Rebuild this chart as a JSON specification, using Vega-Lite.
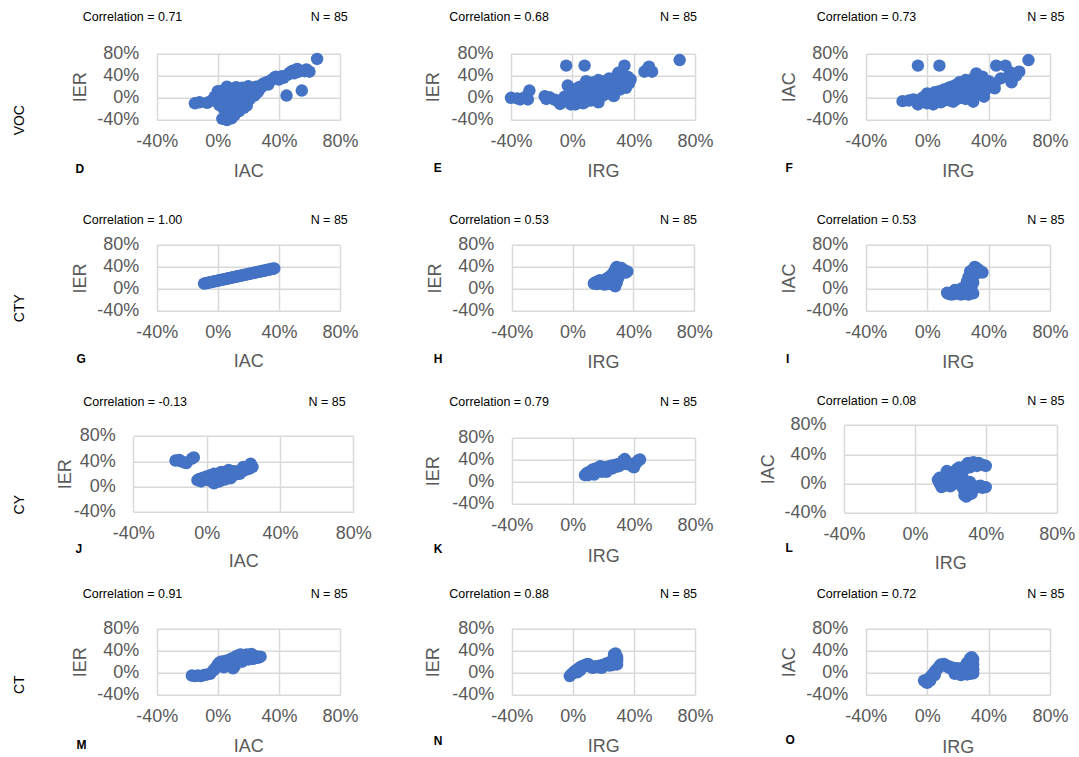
{
"$schema": "https://vega.github.io/schema/vega-lite/v6.json",
"padding": {"left": 12, "top": 10.7, "right": 0, "bottom": 0},
"autosize": {"type": "pad"},
"config": {
 "font": "Liberation Sans",
 "view": {"stroke": null},
 "axis": {"domain": false, "ticks": false, "tickSize": 0, "labelFontSize": 18, "labelColor": "#595959", "labelFlush": false, "labelOverlap": false, "titleFontSize": 18, "titleColor": "#595959", "titleFontWeight": "normal", "titleAlign": "center", "titleBaseline": "alphabetic", "gridColor": "#D9D9D9", "gridWidth": 1.5},
 "axisX": {"labelPadding": 13, "titleAngle": 0},
 "axisY": {"labelPadding": 18, "titleAngle": 270},
 "title": {"fontSize": 12.5, "fontWeight": "normal", "color": "#000000", "anchor": "start", "frame": "group", "baseline": "alphabetic", "limit": 1000},
 "circle": {"color": "#4472C4", "opacity": 1, "size": 155}
},
"datasets": {
 "D": [{"IAC":-0.15,"IER":-0.10},{"IAC":-0.12,"IER":-0.08},{"IAC":-0.07,"IER":-0.09},{"IAC":-0.04,"IER":-0.05},{"IAC":-0.01,"IER":0.03},{"IAC":0,"IER":0.12},{"IAC":0.01,"IER":-0.03},{"IAC":0.02,"IER":0.05},{"IAC":0.03,"IER":-0.09},{"IAC":0.04,"IER":0.09},{"IAC":0.05,"IER":0.16},{"IAC":0.06,"IER":0.20},{"IAC":0.05,"IER":-0.04},{"IAC":0.07,"IER":0.02},{"IAC":0.08,"IER":-0.12},{"IAC":0.09,"IER":0.11},{"IAC":0.10,"IER":-0.06},{"IAC":0.11,"IER":0.04},{"IAC":0.12,"IER":-0.18},{"IAC":0.13,"IER":0.14},{"IAC":0.14,"IER":0},{"IAC":0.15,"IER":-0.09},{"IAC":0.16,"IER":0.18},{"IAC":0.17,"IER":0.08},{"IAC":0.18,"IER":-0.10},{"IAC":0.19,"IER":0.05},{"IAC":0.20,"IER":0.14},{"IAC":0.21,"IER":-0.02},{"IAC":0.22,"IER":0.17},{"IAC":0.23,"IER":0.08},{"IAC":0.25,"IER":0.20},{"IAC":0.26,"IER":0.10},{"IAC":0.28,"IER":0.22},{"IAC":0.30,"IER":0.26},{"IAC":0.32,"IER":0.28},{"IAC":0.34,"IER":0.30},{"IAC":0.37,"IER":0.36},{"IAC":0.40,"IER":0.33},{"IAC":0.43,"IER":0.36},{"IAC":0.45,"IER":0.04},{"IAC":0.47,"IER":0.45},{"IAC":0.49,"IER":0.49},{"IAC":0.52,"IER":0.52},{"IAC":0.55,"IER":0.13},{"IAC":0.57,"IER":0.48},{"IAC":0.60,"IER":0.47},{"IAC":0.65,"IER":0.70},{"IAC":0.03,"IER":-0.38},{"IAC":0.06,"IER":-0.40},{"IAC":0.09,"IER":-0.37},{"IAC":0.11,"IER":-0.31},{"IAC":0.14,"IER":-0.24},{"IAC":0.08,"IER":-0.22},{"IAC":0.10,"IER":-0.15},{"IAC":0.06,"IER":-0.28},{"IAC":0.15,"IER":-0.16},{"IAC":0.17,"IER":-0.18},{"IAC":0.04,"IER":-0.20},{"IAC":0.12,"IER":-0.08},{"IAC":0.09,"IER":0},{"IAC":0.18,"IER":0.02},{"IAC":0.24,"IER":0.04},{"IAC":0.27,"IER":0.14},{"IAC":0.29,"IER":0.20},{"IAC":0.35,"IER":0.32},{"IAC":0,"IER":-0.02},{"IAC":-0.02,"IER":0.02},{"IAC":0.02,"IER":0.12},{"IAC":0.06,"IER":0.06},{"IAC":0.08,"IER":0.15},{"IAC":0.15,"IER":0.10},{"IAC":0.20,"IER":0.21},{"IAC":0.12,"IER":0.19},{"IAC":0.33,"IER":0.24},{"IAC":0.38,"IER":0.38},{"IAC":0.42,"IER":0.39},{"IAC":0.50,"IER":0.44},{"IAC":0.53,"IER":0.47},{"IAC":0.58,"IER":0.51},{"IAC":0.46,"IER":0.42},{"IAC":0.01,"IER":-0.13},{"IAC":0.05,"IER":-0.16},{"IAC":0.17,"IER":-0.05},{"IAC":0.19,"IER":-0.14},{"IAC":0.22,"IER":0.09}],
 "E": [{"IRG":-0.40,"IER":0},{"IRG":-0.36,"IER":-0.01},{"IRG":-0.34,"IER":-0.03},{"IRG":-0.31,"IER":0.01},{"IRG":-0.28,"IER":0.13},{"IRG":-0.29,"IER":-0.03},{"IRG":-0.18,"IER":0.03},{"IRG":-0.17,"IER":-0.02},{"IRG":-0.15,"IER":0.01},{"IRG":-0.10,"IER":-0.05},{"IRG":-0.08,"IER":-0.11},{"IRG":-0.06,"IER":-0.04},{"IRG":-0.05,"IER":0.02},{"IRG":-0.04,"IER":0.58},{"IRG":0.08,"IER":0.58},{"IRG":-0.03,"IER":0.22},{"IRG":-0.02,"IER":0.08},{"IRG":-0.01,"IER":-0.12},{"IRG":0,"IER":-0.04},{"IRG":0,"IER":0.12},{"IRG":0.01,"IER":0.04},{"IRG":0.02,"IER":-0.12},{"IRG":0.03,"IER":0},{"IRG":0.04,"IER":0.08},{"IRG":0.05,"IER":0.20},{"IRG":0.06,"IER":-0.03},{"IRG":0.07,"IER":-0.10},{"IRG":0.08,"IER":0.05},{"IRG":0.09,"IER":0.14},{"IRG":0.09,"IER":0.30},{"IRG":0.10,"IER":0},{"IRG":0.11,"IER":0.22},{"IRG":0.12,"IER":-0.05},{"IRG":0.13,"IER":0.10},{"IRG":0.14,"IER":0.28},{"IRG":0.15,"IER":0.17},{"IRG":0.16,"IER":0.03},{"IRG":0.17,"IER":-0.08},{"IRG":0.17,"IER":0.32},{"IRG":0.18,"IER":0.12},{"IRG":0.19,"IER":0.23},{"IRG":0.20,"IER":0.04},{"IRG":0.21,"IER":0.30},{"IRG":0.22,"IER":0.16},{"IRG":0.23,"IER":0.08},{"IRG":0.24,"IER":0.35},{"IRG":0.25,"IER":0.22},{"IRG":0.26,"IER":0.12},{"IRG":0.27,"IER":0.28},{"IRG":0.28,"IER":0.18},{"IRG":0.29,"IER":0.38},{"IRG":0.30,"IER":0.25},{"IRG":0.31,"IER":0.15},{"IRG":0.32,"IER":0.33},{"IRG":0.33,"IER":0.42},{"IRG":0.34,"IER":0.58},{"IRG":0.34,"IER":0.22},{"IRG":0.35,"IER":0.30},{"IRG":0.36,"IER":0.38},{"IRG":0.37,"IER":0.26},{"IRG":0.38,"IER":0.33},{"IRG":0.30,"IER":0.45},{"IRG":0.26,"IER":0.30},{"IRG":0.22,"IER":0.24},{"IRG":0.19,"IER":0.16},{"IRG":0.15,"IER":0.08},{"IRG":0.11,"IER":0.10},{"IRG":0.06,"IER":0.14},{"IRG":0.03,"IER":0.17},{"IRG":-0.02,"IER":-0.02},{"IRG":0.13,"IER":0.20},{"IRG":0.20,"IER":0.20},{"IRG":0.28,"IER":0.32},{"IRG":0.24,"IER":0.14},{"IRG":0.35,"IER":0.18},{"IRG":0.47,"IER":0.47},{"IRG":0.49,"IER":0.52},{"IRG":0.50,"IER":0.56},{"IRG":0.52,"IER":0.47},{"IRG":0.70,"IER":0.68},{"IRG":0.12,"IER":0.26},{"IRG":0.16,"IER":0.18},{"IRG":0.27,"IER":0.03},{"IRG":0.08,"IER":-0.08},{"IRG":-0.12,"IER":-0.03}],
 "F": [{"IRG":-0.16,"IAC":-0.06},{"IRG":-0.12,"IAC":-0.05},{"IRG":-0.09,"IAC":-0.03},{"IRG":-0.06,"IAC":-0.12},{"IRG":-0.05,"IAC":-0.08},{"IRG":-0.04,"IAC":-0.02},{"IRG":-0.06,"IAC":0.58},{"IRG":0.08,"IAC":0.58},{"IRG":-0.02,"IAC":0.02},{"IRG":0,"IAC":0.08},{"IRG":0,"IAC":-0.10},{"IRG":0.01,"IAC":-0.05},{"IRG":0.02,"IAC":0},{"IRG":0.03,"IAC":0.05},{"IRG":0.04,"IAC":-0.12},{"IRG":0.05,"IAC":0.10},{"IRG":0.06,"IAC":-0.06},{"IRG":0.07,"IAC":0.02},{"IRG":0.08,"IAC":0.12},{"IRG":0.09,"IAC":-0.08},{"IRG":0.10,"IAC":0.04},{"IRG":0.11,"IAC":0.15},{"IRG":0.12,"IAC":-0.04},{"IRG":0.13,"IAC":0.08},{"IRG":0.14,"IAC":0.18},{"IRG":0.15,"IAC":0},{"IRG":0.16,"IAC":0.10},{"IRG":0.17,"IAC":-0.07},{"IRG":0.18,"IAC":0.22},{"IRG":0.19,"IAC":0.05},{"IRG":0.20,"IAC":0.14},{"IRG":0.21,"IAC":0.28},{"IRG":0.22,"IAC":0},{"IRG":0.23,"IAC":0.18},{"IRG":0.24,"IAC":0.08},{"IRG":0.25,"IAC":0.32},{"IRG":0.26,"IAC":0.22},{"IRG":0.27,"IAC":0.12},{"IRG":0.28,"IAC":0.02},{"IRG":0.29,"IAC":0.26},{"IRG":0.30,"IAC":-0.07},{"IRG":0.30,"IAC":0.35},{"IRG":0.31,"IAC":0.16},{"IRG":0.32,"IAC":0.44},{"IRG":0.33,"IAC":0.28},{"IRG":0.34,"IAC":0.08},{"IRG":0.35,"IAC":0.20},{"IRG":0.36,"IAC":0.10},{"IRG":0.37,"IAC":0.02},{"IRG":0.38,"IAC":0.24},{"IRG":0.12,"IAC":0.08},{"IRG":0.18,"IAC":0.12},{"IRG":0.24,"IAC":0.16},{"IRG":0.08,"IAC":0.04},{"IRG":0.14,"IAC":0.06},{"IRG":0.20,"IAC":0.24},{"IRG":0.26,"IAC":0.06},{"IRG":0.28,"IAC":0.16},{"IRG":0.16,"IAC":0.20},{"IRG":0.06,"IAC":0.02},{"IRG":0.10,"IAC":-0.02},{"IRG":0.22,"IAC":0.10},{"IRG":0.34,"IAC":0.36},{"IRG":0.31,"IAC":0.04},{"IRG":0.44,"IAC":0.17},{"IRG":0.45,"IAC":0.58},{"IRG":0.51,"IAC":0.58},{"IRG":0.54,"IAC":0.46},{"IRG":0.55,"IAC":0.28},{"IRG":0.58,"IAC":0.40},{"IRG":0.60,"IAC":0.47},{"IRG":0.66,"IAC":0.68},{"IRG":0.48,"IAC":0.35},{"IRG":0.42,"IAC":0.22},{"IRG":0.40,"IAC":0.30},{"IRG":0.38,"IAC":0.14},{"IRG":0.44,"IAC":0.26},{"IRG":-0.01,"IAC":-0.06},{"IRG":0.03,"IAC":-0.08},{"IRG":0.15,"IAC":-0.05},{"IRG":0.19,"IAC":-0.03},{"IRG":0.36,"IAC":0.38},{"IRG":0.29,"IAC":0.10},{"IRG":0.04,"IAC":0.04},{"IRG":0.25,"IAC":-0.02}],
 "G": [{"IAC":-0.09,"IER":0.098},{"IAC":-0.08,"IER":0.104},{"IAC":-0.07,"IER":0.11},{"IAC":-0.06,"IER":0.116},{"IAC":-0.05,"IER":0.122},{"IAC":-0.04,"IER":0.128},{"IAC":-0.03,"IER":0.134},{"IAC":-0.02,"IER":0.14},{"IAC":-0.01,"IER":0.146},{"IAC":0,"IER":0.152},{"IAC":0.01,"IER":0.158},{"IAC":0.02,"IER":0.164},{"IAC":0.03,"IER":0.17},{"IAC":0.04,"IER":0.176},{"IAC":0.05,"IER":0.182},{"IAC":0.06,"IER":0.188},{"IAC":0.07,"IER":0.194},{"IAC":0.08,"IER":0.2},{"IAC":0.09,"IER":0.206},{"IAC":0.10,"IER":0.212},{"IAC":0.11,"IER":0.218},{"IAC":0.12,"IER":0.224},{"IAC":0.13,"IER":0.23},{"IAC":0.14,"IER":0.236},{"IAC":0.15,"IER":0.242},{"IAC":0.16,"IER":0.248},{"IAC":0.17,"IER":0.254},{"IAC":0.18,"IER":0.26},{"IAC":0.19,"IER":0.266},{"IAC":0.20,"IER":0.272},{"IAC":0.21,"IER":0.278},{"IAC":0.22,"IER":0.284},{"IAC":0.23,"IER":0.29},{"IAC":0.24,"IER":0.296},{"IAC":0.25,"IER":0.302},{"IAC":0.26,"IER":0.308},{"IAC":0.27,"IER":0.314},{"IAC":0.28,"IER":0.32},{"IAC":0.29,"IER":0.326},{"IAC":0.30,"IER":0.332},{"IAC":0.31,"IER":0.338},{"IAC":0.32,"IER":0.344},{"IAC":0.33,"IER":0.35},{"IAC":0.34,"IER":0.356},{"IAC":0.35,"IER":0.362},{"IAC":0.36,"IER":0.368},{"IAC":0.37,"IER":0.374}],
 "H": [{"IRG":0.14,"IER":0.10},{"IRG":0.15,"IER":0.12},{"IRG":0.16,"IER":0.09},{"IRG":0.17,"IER":0.14},{"IRG":0.18,"IER":0.11},{"IRG":0.19,"IER":0.13},{"IRG":0.20,"IER":0.15},{"IRG":0.21,"IER":0.12},{"IRG":0.22,"IER":0.16},{"IRG":0.23,"IER":0.14},{"IRG":0.24,"IER":0.18},{"IRG":0.25,"IER":0.20},{"IRG":0.26,"IER":0.23},{"IRG":0.27,"IER":0.08},{"IRG":0.27,"IER":0.25},{"IRG":0.28,"IER":0.28},{"IRG":0.28,"IER":0.05},{"IRG":0.29,"IER":0.32},{"IRG":0.29,"IER":0.12},{"IRG":0.30,"IER":0.36},{"IRG":0.30,"IER":0.20},{"IRG":0.31,"IER":0.38},{"IRG":0.31,"IER":0.30},{"IRG":0.32,"IER":0.34},{"IRG":0.33,"IER":0.36},{"IRG":0.34,"IER":0.33},{"IRG":0.35,"IER":0.30},{"IRG":0.36,"IER":0.32},{"IRG":0.29,"IER":0.40},{"IRG":0.26,"IER":0.26},{"IRG":0.25,"IER":0.10},{"IRG":0.23,"IER":0.09},{"IRG":0.20,"IER":0.09},{"IRG":0.18,"IER":0.16},{"IRG":0.16,"IER":0.13},{"IRG":0.22,"IER":0.18},{"IRG":0.24,"IER":0.22},{"IRG":0.27,"IER":0.30},{"IRG":0.32,"IER":0.38},{"IRG":0.30,"IER":0.33},{"IRG":0.28,"IER":0.35},{"IRG":0.33,"IER":0.30},{"IRG":0.26,"IER":0.14},{"IRG":0.21,"IER":0.08}],
 "I": [{"IRG":0.13,"IAC":-0.07},{"IRG":0.14,"IAC":-0.09},{"IRG":0.15,"IAC":-0.08},{"IRG":0.16,"IAC":-0.10},{"IRG":0.17,"IAC":-0.06},{"IRG":0.18,"IAC":-0.09},{"IRG":0.19,"IAC":-0.05},{"IRG":0.20,"IAC":-0.08},{"IRG":0.21,"IAC":-0.02},{"IRG":0.22,"IAC":-0.10},{"IRG":0.23,"IAC":0.02},{"IRG":0.24,"IAC":-0.06},{"IRG":0.25,"IAC":-0.09},{"IRG":0.26,"IAC":0.05},{"IRG":0.26,"IAC":-0.04},{"IRG":0.27,"IAC":-0.10},{"IRG":0.27,"IAC":0.10},{"IRG":0.28,"IAC":0},{"IRG":0.28,"IAC":0.15},{"IRG":0.28,"IAC":-0.07},{"IRG":0.29,"IAC":0.20},{"IRG":0.29,"IAC":0.05},{"IRG":0.29,"IAC":0.28},{"IRG":0.30,"IAC":0.25},{"IRG":0.30,"IAC":0.35},{"IRG":0.30,"IAC":-0.08},{"IRG":0.31,"IAC":0.40},{"IRG":0.31,"IAC":0.30},{"IRG":0.32,"IAC":0.38},{"IRG":0.33,"IAC":0.36},{"IRG":0.34,"IAC":0.33},{"IRG":0.35,"IAC":0.32},{"IRG":0.36,"IAC":0.30},{"IRG":0.32,"IAC":0.28},{"IRG":0.27,"IAC":0.22},{"IRG":0.28,"IAC":0.32},{"IRG":0.26,"IAC":0.14},{"IRG":0.24,"IAC":0},{"IRG":0.22,"IAC":-0.04},{"IRG":0.20,"IAC":-0.03},{"IRG":0.18,"IAC":-0.02},{"IRG":0.30,"IAC":0.12}],
 "J": [{"IAC":-0.17,"IER":0.41},{"IAC":-0.15,"IER":0.42},{"IAC":-0.14,"IER":0.40},{"IAC":-0.12,"IER":0.38},{"IAC":-0.11,"IER":0.37},{"IAC":-0.08,"IER":0.44},{"IAC":-0.07,"IER":0.46},{"IAC":-0.05,"IER":0.10},{"IAC":-0.04,"IER":0.12},{"IAC":-0.03,"IER":0.08},{"IAC":-0.02,"IER":0.14},{"IAC":-0.01,"IER":0.11},{"IAC":0,"IER":0.16},{"IAC":0.01,"IER":0.13},{"IAC":0.02,"IER":0.18},{"IAC":0.03,"IER":0.15},{"IAC":0.04,"IER":0.05},{"IAC":0.04,"IER":0.20},{"IAC":0.05,"IER":0.12},{"IAC":0.06,"IER":0.17},{"IAC":0.07,"IER":0.08},{"IAC":0.07,"IER":0.21},{"IAC":0.08,"IER":0.14},{"IAC":0.09,"IER":0.19},{"IAC":0.10,"IER":0.11},{"IAC":0.10,"IER":0.23},{"IAC":0.11,"IER":0.16},{"IAC":0.12,"IER":0.20},{"IAC":0.13,"IER":0.13},{"IAC":0.14,"IER":0.24},{"IAC":0.15,"IER":0.18},{"IAC":0.16,"IER":0.22},{"IAC":0.17,"IER":0.20},{"IAC":0.18,"IER":0.25},{"IAC":0.19,"IER":0.23},{"IAC":0.20,"IER":0.27},{"IAC":0.21,"IER":0.26},{"IAC":0.22,"IER":0.30},{"IAC":0.23,"IER":0.28},{"IAC":0.24,"IER":0.33},{"IAC":0.25,"IER":0.31},{"IAC":0.24,"IER":0.36},{"IAC":0.20,"IER":0.31},{"IAC":0.15,"IER":0.24},{"IAC":0.12,"IER":0.26},{"IAC":0.06,"IER":0.10},{"IAC":0.02,"IER":0.09},{"IAC":0.08,"IER":0.23},{"IAC":0.13,"IER":0.18},{"IAC":0.18,"IER":0.20}],
 "K": [{"IRG":0.08,"IER":0.12},{"IRG":0.09,"IER":0.15},{"IRG":0.10,"IER":0.17},{"IRG":0.11,"IER":0.14},{"IRG":0.12,"IER":0.19},{"IRG":0.13,"IER":0.22},{"IRG":0.14,"IER":0.17},{"IRG":0.15,"IER":0.24},{"IRG":0.16,"IER":0.20},{"IRG":0.17,"IER":0.25},{"IRG":0.18,"IER":0.22},{"IRG":0.19,"IER":0.18},{"IRG":0.20,"IER":0.24},{"IRG":0.21,"IER":0.26},{"IRG":0.22,"IER":0.22},{"IRG":0.23,"IER":0.27},{"IRG":0.24,"IER":0.25},{"IRG":0.25,"IER":0.29},{"IRG":0.26,"IER":0.28},{"IRG":0.27,"IER":0.30},{"IRG":0.28,"IER":0.27},{"IRG":0.29,"IER":0.31},{"IRG":0.30,"IER":0.32},{"IRG":0.31,"IER":0.30},{"IRG":0.32,"IER":0.34},{"IRG":0.33,"IER":0.38},{"IRG":0.34,"IER":0.41},{"IRG":0.35,"IER":0.36},{"IRG":0.36,"IER":0.34},{"IRG":0.37,"IER":0.32},{"IRG":0.38,"IER":0.30},{"IRG":0.39,"IER":0.28},{"IRG":0.40,"IER":0.26},{"IRG":0.41,"IER":0.32},{"IRG":0.42,"IER":0.36},{"IRG":0.43,"IER":0.39},{"IRG":0.44,"IER":0.40},{"IRG":0.18,"IER":0.28},{"IRG":0.14,"IER":0.13},{"IRG":0.22,"IER":0.18},{"IRG":0.30,"IER":0.28},{"IRG":0.26,"IER":0.24},{"IRG":0.10,"IER":0.12},{"IRG":0.35,"IER":0.32}],
 "L": [{"IRG":0.13,"IAC":0.05},{"IRG":0.14,"IAC":0},{"IRG":0.15,"IAC":-0.05},{"IRG":0.14,"IAC":0.08},{"IRG":0.16,"IAC":0.03},{"IRG":0.17,"IAC":0.10},{"IRG":0.18,"IAC":0.17},{"IRG":0.19,"IAC":-0.02},{"IRG":0.20,"IAC":-0.04},{"IRG":0.20,"IAC":0.12},{"IRG":0.21,"IAC":0.05},{"IRG":0.22,"IAC":0.10},{"IRG":0.23,"IAC":0.18},{"IRG":0.23,"IAC":0},{"IRG":0.24,"IAC":0.20},{"IRG":0.25,"IAC":0.14},{"IRG":0.26,"IAC":0.16},{"IRG":0.27,"IAC":0.08},{"IRG":0.28,"IAC":0.20},{"IRG":0.28,"IAC":-0.16},{"IRG":0.29,"IAC":-0.18},{"IRG":0.30,"IAC":-0.12},{"IRG":0.30,"IAC":0.28},{"IRG":0.31,"IAC":0.02},{"IRG":0.31,"IAC":0.22},{"IRG":0.32,"IAC":-0.08},{"IRG":0.33,"IAC":0.29},{"IRG":0.33,"IAC":0.26},{"IRG":0.34,"IAC":-0.06},{"IRG":0.35,"IAC":-0.04},{"IRG":0.36,"IAC":0.28},{"IRG":0.37,"IAC":-0.03},{"IRG":0.38,"IAC":-0.06},{"IRG":0.39,"IAC":0.25},{"IRG":0.40,"IAC":-0.05},{"IRG":0.40,"IAC":0.24},{"IRG":0.29,"IAC":0.25},{"IRG":0.35,"IAC":0.24},{"IRG":0.26,"IAC":0.04},{"IRG":0.19,"IAC":0.08},{"IRG":0.17,"IAC":-0.03},{"IRG":0.25,"IAC":0.22},{"IRG":0.32,"IAC":-0.14},{"IRG":0.27,"IAC":-0.06}],
 "M": [{"IAC":-0.17,"IER":-0.05},{"IAC":-0.15,"IER":-0.06},{"IAC":-0.13,"IER":-0.05},{"IAC":-0.11,"IER":-0.06},{"IAC":-0.09,"IER":-0.04},{"IAC":-0.07,"IER":-0.03},{"IAC":-0.05,"IER":-0.02},{"IAC":-0.03,"IER":0.04},{"IAC":-0.02,"IER":0.07},{"IAC":-0.01,"IER":0.10},{"IAC":0,"IER":0.15},{"IAC":0.01,"IER":0.18},{"IAC":0.02,"IER":0.20},{"IAC":0.03,"IER":0.16},{"IAC":0.04,"IER":0.21},{"IAC":0.05,"IER":0.18},{"IAC":0.06,"IER":0.22},{"IAC":0.07,"IER":0.20},{"IAC":0.08,"IER":0.23},{"IAC":0.09,"IER":0.14},{"IAC":0.10,"IER":0.08},{"IAC":0.10,"IER":0.20},{"IAC":0.11,"IER":0.25},{"IAC":0.12,"IER":0.30},{"IAC":0.13,"IER":0.28},{"IAC":0.14,"IER":0.32},{"IAC":0.15,"IER":0.25},{"IAC":0.16,"IER":0.20},{"IAC":0.17,"IER":0.30},{"IAC":0.18,"IER":0.26},{"IAC":0.19,"IER":0.33},{"IAC":0.20,"IER":0.30},{"IAC":0.21,"IER":0.32},{"IAC":0.22,"IER":0.34},{"IAC":0.23,"IER":0.31},{"IAC":0.24,"IER":0.28},{"IAC":0.25,"IER":0.30},{"IAC":0.26,"IER":0.27},{"IAC":0.27,"IER":0.28},{"IAC":0.28,"IER":0.29},{"IAC":0.15,"IER":0.33},{"IAC":0.13,"IER":0.22},{"IAC":0.11,"IER":0.12},{"IAC":0.20,"IER":0.24},{"IAC":0.23,"IER":0.25},{"IAC":0.06,"IER":0.15},{"IAC":0.08,"IER":0.18},{"IAC":0.04,"IER":0.10},{"IAC":0.09,"IER":0.26}],
 "N": [{"IRG":-0.02,"IER":-0.06},{"IRG":-0.01,"IER":-0.03},{"IRG":0,"IER":-0.01},{"IRG":0.01,"IER":0.02},{"IRG":0.02,"IER":0.04},{"IRG":0.03,"IER":0.06},{"IRG":0.04,"IER":0.08},{"IRG":0.05,"IER":0.10},{"IRG":0.06,"IER":0.12},{"IRG":0.07,"IER":0.11},{"IRG":0.08,"IER":0.14},{"IRG":0.09,"IER":0.15},{"IRG":0.10,"IER":0.16},{"IRG":0.11,"IER":0.13},{"IRG":0.12,"IER":0.11},{"IRG":0.13,"IER":0.09},{"IRG":0.14,"IER":0.10},{"IRG":0.15,"IER":0.12},{"IRG":0.16,"IER":0.11},{"IRG":0.17,"IER":0.10},{"IRG":0.18,"IER":0.13},{"IRG":0.19,"IER":0.12},{"IRG":0.20,"IER":0.14},{"IRG":0.21,"IER":0.15},{"IRG":0.22,"IER":0.17},{"IRG":0.23,"IER":0.16},{"IRG":0.24,"IER":0.18},{"IRG":0.25,"IER":0.20},{"IRG":0.26,"IER":0.22},{"IRG":0.27,"IER":0.26},{"IRG":0.27,"IER":0.30},{"IRG":0.28,"IER":0.35},{"IRG":0.28,"IER":0.25},{"IRG":0.29,"IER":0.20},{"IRG":0.29,"IER":0.15},{"IRG":0.28,"IER":0.18},{"IRG":0.26,"IER":0.14},{"IRG":0.24,"IER":0.13},{"IRG":0.19,"IER":0.09},{"IRG":0.10,"IER":0.12},{"IRG":0.05,"IER":0.05},{"IRG":0.03,"IER":0.01},{"IRG":0.27,"IER":0.33},{"IRG":0.29,"IER":0.28},{"IRG":0.29,"IER":0.23}],
 "O": [{"IRG":-0.02,"IAC":-0.14},{"IRG":-0.01,"IAC":-0.16},{"IRG":0,"IAC":-0.18},{"IRG":0.01,"IAC":-0.12},{"IRG":0.02,"IAC":-0.08},{"IRG":0.03,"IAC":-0.05},{"IRG":0.04,"IAC":-0.02},{"IRG":0.05,"IAC":0.02},{"IRG":0.06,"IAC":0.05},{"IRG":0.07,"IAC":0.08},{"IRG":0.08,"IAC":0.12},{"IRG":0.09,"IAC":0.15},{"IRG":0.10,"IAC":0.14},{"IRG":0.11,"IAC":0.16},{"IRG":0.12,"IAC":0.13},{"IRG":0.13,"IAC":0.11},{"IRG":0.14,"IAC":0.12},{"IRG":0.15,"IAC":0.08},{"IRG":0.16,"IAC":0.07},{"IRG":0.17,"IAC":0.09},{"IRG":0.18,"IAC":-0.02},{"IRG":0.18,"IAC":0.05},{"IRG":0.19,"IAC":0.03},{"IRG":0.20,"IAC":0},{"IRG":0.21,"IAC":0.06},{"IRG":0.22,"IAC":0.02},{"IRG":0.23,"IAC":-0.02},{"IRG":0.24,"IAC":0.04},{"IRG":0.25,"IAC":0},{"IRG":0.26,"IAC":-0.03},{"IRG":0.27,"IAC":0.05},{"IRG":0.28,"IAC":0.08},{"IRG":0.28,"IAC":-0.02},{"IRG":0.29,"IAC":0.12},{"IRG":0.28,"IAC":0.18},{"IRG":0.29,"IAC":0.22},{"IRG":0.28,"IAC":0.26},{"IRG":0.29,"IAC":0.28},{"IRG":0.30,"IAC":0.24},{"IRG":0.30,"IAC":0.15},{"IRG":0.30,"IAC":0.05},{"IRG":0.30,"IAC":-0.01},{"IRG":0.27,"IAC":0.12},{"IRG":0.26,"IAC":0.18},{"IRG":0.24,"IAC":0.10},{"IRG":0.20,"IAC":0.08},{"IRG":0.02,"IAC":-0.14},{"IRG":0.05,"IAC":-0.04},{"IRG":0.22,"IAC":-0.04}]
},
"columns": 3,
"bounds": "flush",
"align": "all",
"spacing": {"row": 84, "column": 133},
"concat": [
 {"width":224,"height":68,"data":{"name":"D"},
  "title":{"text":"Correlation = 0.71\u00a0\u00a0\u00a0\u00a0\u00a0\u00a0\u00a0\u00a0\u00a0\u00a0\u00a0\u00a0\u00a0\u00a0\u00a0\u00a0\u00a0\u00a0\u00a0\u00a0\u00a0\u00a0\u00a0\u00a0\u00a0\u00a0\u00a0\u00a0\u00a0\u00a0\u00a0\u00a0\u00a0\u00a0\u00a0\u00a0\u00a0N = 85","dx":-47.3,"offset":20.9},
  "layer":[
   {"mark":{"type":"circle"},"encoding":{
     "x":{"field":"IAC","type":"quantitative","scale":{"domain":[-0.4,0.8],"range":[26.7,210],"nice":false},"axis":{"values":[-0.4,0,0.4,0.8],"labelExpr":"round(datum.value*100)+'%'","offset":-0.7,"title":"IAC","titleX":118.35,"titleY":57}},
     "y":{"field":"IER","type":"quantitative","scale":{"domain":[-0.4,0.8],"range":[67.3,0.7],"nice":false},"axis":{"values":[-0.4,0,0.4,0.8],"labelExpr":"round(datum.value*100)+'%'","offset":-26.7,"title":"IER","titleX":-71.7,"titleY":34}}}},
   {"mark":{"type":"circle","opacity":0},"encoding":{
     "x":{"field":"IAC","type":"quantitative","axis":{"orient":"bottom","offset":-0.7,"labels":false,"grid":false,"title":"D","titleX":-55,"titleY":52.2,"titleAlign":"left","titleFontSize":12,"titleFontWeight":"bold","titleColor":"#000000"}},
     "y":{"field":"IER","type":"quantitative","axis":{"orient":"left","offset":-26.7,"labels":false,"grid":false,"title":"VOC","titleX":-133.7,"titleY":67,"titleFontSize":14,"titleColor":"#000000"}}}}
  ],
  "resolve":{"axis":{"x":"independent","y":"independent"}}},
 {"width":224,"height":68,"data":{"name":"E"},
  "title":{"text":"Correlation = 0.68\u00a0\u00a0\u00a0\u00a0\u00a0\u00a0\u00a0\u00a0\u00a0\u00a0\u00a0\u00a0\u00a0\u00a0\u00a0\u00a0\u00a0\u00a0\u00a0\u00a0\u00a0\u00a0\u00a0\u00a0\u00a0\u00a0\u00a0\u00a0\u00a0\u00a0\u00a0\u00a0N = 85","dx":-37.7,"offset":20.9},
  "layer":[
   {"mark":{"type":"circle"},"encoding":{
     "x":{"field":"IRG","type":"quantitative","scale":{"domain":[-0.4,0.8],"range":[24,208],"nice":false},"axis":{"values":[-0.4,0,0.4,0.8],"labelExpr":"round(datum.value*100)+'%'","offset":-0.7,"title":"IRG","titleX":116,"titleY":56.5}},
     "y":{"field":"IER","type":"quantitative","scale":{"domain":[-0.4,0.8],"range":[67.3,0.7],"nice":false},"axis":{"values":[-0.4,0,0.4,0.8],"labelExpr":"round(datum.value*100)+'%'","offset":-24,"title":"IER","titleX":-73,"titleY":34}}}},
   {"mark":{"type":"circle","opacity":0},"encoding":{
     "x":{"field":"IRG","type":"quantitative","axis":{"orient":"bottom","offset":-0.7,"labels":false,"grid":false,"title":"E","titleX":-53.7,"titleY":51.2,"titleAlign":"left","titleFontSize":12,"titleFontWeight":"bold","titleColor":"#000000"}}}}
  ],
  "resolve":{"axis":{"x":"independent"}}},
 {"width":224,"height":68,"data":{"name":"F"},
  "title":{"text":"Correlation = 0.73\u00a0\u00a0\u00a0\u00a0\u00a0\u00a0\u00a0\u00a0\u00a0\u00a0\u00a0\u00a0\u00a0\u00a0\u00a0\u00a0\u00a0\u00a0\u00a0\u00a0\u00a0\u00a0\u00a0\u00a0\u00a0\u00a0\u00a0\u00a0\u00a0\u00a0\u00a0\u00a0N = 85","dx":-27.3,"offset":20.9},
  "layer":[
   {"mark":{"type":"circle"},"encoding":{
     "x":{"field":"IRG","type":"quantitative","scale":{"domain":[-0.4,0.8],"range":[21.7,206],"nice":false},"axis":{"values":[-0.4,0,0.4,0.8],"labelExpr":"round(datum.value*100)+'%'","offset":-0.7,"title":"IRG","titleX":113.85,"titleY":56.5}},
     "y":{"field":"IAC","type":"quantitative","scale":{"domain":[-0.4,0.8],"range":[67.3,0.7],"nice":false},"axis":{"values":[-0.4,0,0.4,0.8],"labelExpr":"round(datum.value*100)+'%'","offset":-21.7,"title":"IAC","titleX":-70.7,"titleY":34}}}},
   {"mark":{"type":"circle","opacity":0},"encoding":{
     "x":{"field":"IRG","type":"quantitative","axis":{"orient":"bottom","offset":-0.7,"labels":false,"grid":false,"title":"F","titleX":-59,"titleY":51.2,"titleAlign":"left","titleFontSize":12,"titleFontWeight":"bold","titleColor":"#000000"}}}}
  ],
  "resolve":{"axis":{"x":"independent"}}},
 {"width":224,"height":78.6,"data":{"name":"G"},
  "title":{"text":"Correlation = 1.00\u00a0\u00a0\u00a0\u00a0\u00a0\u00a0\u00a0\u00a0\u00a0\u00a0\u00a0\u00a0\u00a0\u00a0\u00a0\u00a0\u00a0\u00a0\u00a0\u00a0\u00a0\u00a0\u00a0\u00a0\u00a0\u00a0\u00a0\u00a0\u00a0\u00a0\u00a0\u00a0\u00a0\u00a0\u00a0\u00a0\u00a0N = 85","dx":-47.3,"offset":9.7},
  "layer":[
   {"mark":{"type":"circle"},"encoding":{
     "x":{"field":"IAC","type":"quantitative","scale":{"domain":[-0.4,0.8],"range":[26.7,210],"nice":false},"axis":{"values":[-0.4,0,0.4,0.8],"labelExpr":"round(datum.value*100)+'%'","offset":-6.3,"title":"IAC","titleX":118.35,"titleY":56}},
     "y":{"field":"IER","type":"quantitative","scale":{"domain":[-0.4,0.8],"range":[72.3,6.3],"nice":false},"axis":{"values":[-0.4,0,0.4,0.8],"labelExpr":"round(datum.value*100)+'%'","offset":-26.7,"title":"IER","titleX":-71.7,"titleY":39.3}}}},
   {"mark":{"type":"circle","opacity":0},"encoding":{
     "x":{"field":"IAC","type":"quantitative","axis":{"orient":"bottom","offset":-6.3,"labels":false,"grid":false,"title":"G","titleX":-54,"titleY":51.9,"titleAlign":"left","titleFontSize":12,"titleFontWeight":"bold","titleColor":"#000000"}},
     "y":{"field":"IER","type":"quantitative","axis":{"orient":"left","offset":-26.7,"labels":false,"grid":false,"title":"CTY","titleX":-133.7,"titleY":69,"titleFontSize":14,"titleColor":"#000000"}}}}
  ],
  "resolve":{"axis":{"x":"independent","y":"independent"}}},
 {"width":224,"height":78.6,"data":{"name":"H"},
  "title":{"text":"Correlation = 0.53\u00a0\u00a0\u00a0\u00a0\u00a0\u00a0\u00a0\u00a0\u00a0\u00a0\u00a0\u00a0\u00a0\u00a0\u00a0\u00a0\u00a0\u00a0\u00a0\u00a0\u00a0\u00a0\u00a0\u00a0\u00a0\u00a0\u00a0\u00a0\u00a0\u00a0\u00a0\u00a0N = 85","dx":-37.7,"offset":9.7},
  "layer":[
   {"mark":{"type":"circle"},"encoding":{
     "x":{"field":"IRG","type":"quantitative","scale":{"domain":[-0.4,0.8],"range":[24.7,207.3],"nice":false},"axis":{"values":[-0.4,0,0.4,0.8],"labelExpr":"round(datum.value*100)+'%'","offset":-6.3,"title":"IRG","titleX":116,"titleY":57}},
     "y":{"field":"IER","type":"quantitative","scale":{"domain":[-0.4,0.8],"range":[72.3,6.3],"nice":false},"axis":{"values":[-0.4,0,0.4,0.8],"labelExpr":"round(datum.value*100)+'%'","offset":-24.7,"title":"IER","titleX":-71.7,"titleY":39.3}}}},
   {"mark":{"type":"circle","opacity":0},"encoding":{
     "x":{"field":"IRG","type":"quantitative","axis":{"orient":"bottom","offset":-6.3,"labels":false,"grid":false,"title":"H","titleX":-53.7,"titleY":51.9,"titleAlign":"left","titleFontSize":12,"titleFontWeight":"bold","titleColor":"#000000"}}}}
  ],
  "resolve":{"axis":{"x":"independent"}}},
 {"width":224,"height":78.6,"data":{"name":"I"},
  "title":{"text":"Correlation = 0.53\u00a0\u00a0\u00a0\u00a0\u00a0\u00a0\u00a0\u00a0\u00a0\u00a0\u00a0\u00a0\u00a0\u00a0\u00a0\u00a0\u00a0\u00a0\u00a0\u00a0\u00a0\u00a0\u00a0\u00a0\u00a0\u00a0\u00a0\u00a0\u00a0\u00a0\u00a0\u00a0N = 85","dx":-27.3,"offset":9.7},
  "layer":[
   {"mark":{"type":"circle"},"encoding":{
     "x":{"field":"IRG","type":"quantitative","scale":{"domain":[-0.4,0.8],"range":[21.7,206],"nice":false},"axis":{"values":[-0.4,0,0.4,0.8],"labelExpr":"round(datum.value*100)+'%'","offset":-6.3,"title":"IRG","titleX":113.85,"titleY":56.5}},
     "y":{"field":"IAC","type":"quantitative","scale":{"domain":[-0.4,0.8],"range":[72.3,6.3],"nice":false},"axis":{"values":[-0.4,0,0.4,0.8],"labelExpr":"round(datum.value*100)+'%'","offset":-21.7,"title":"IAC","titleX":-70.7,"titleY":39.3}}}},
   {"mark":{"type":"circle","opacity":0},"encoding":{
     "x":{"field":"IRG","type":"quantitative","axis":{"orient":"bottom","offset":-6.3,"labels":false,"grid":false,"title":"I","titleX":-58.5,"titleY":51.9,"titleAlign":"left","titleFontSize":12,"titleFontWeight":"bold","titleColor":"#000000"}}}}
  ],
  "resolve":{"axis":{"x":"independent"}}},
 {"width":224,"height":98.3,"data":{"name":"J"},
  "title":{"text":"Correlation = -0.13\u00a0\u00a0\u00a0\u00a0\u00a0\u00a0\u00a0\u00a0\u00a0\u00a0\u00a0\u00a0\u00a0\u00a0\u00a0\u00a0\u00a0\u00a0\u00a0\u00a0\u00a0\u00a0\u00a0\u00a0\u00a0\u00a0\u00a0\u00a0\u00a0\u00a0\u00a0\u00a0\u00a0\u00a0\u00a0N = 85","dx":-46.7,"offset":16.5},
  "layer":[
   {"mark":{"type":"circle"},"encoding":{
     "x":{"field":"IAC","type":"quantitative","scale":{"domain":[-0.4,0.8],"range":[3.3,223.3],"nice":false},"axis":{"values":[-0.4,0,0.4,0.8],"labelExpr":"round(datum.value*100)+'%'","offset":-11.3,"title":"IAC","titleX":113.3,"titleY":55.2}},
     "y":{"field":"IER","type":"quantitative","scale":{"domain":[-0.4,0.8],"range":[87,11.3],"nice":false},"axis":{"values":[-0.4,0,0.4,0.8],"labelExpr":"round(datum.value*100)+'%'","offset":-3.3,"title":"IER","titleX":-63.3,"titleY":49.15}}}},
   {"mark":{"type":"circle","opacity":0},"encoding":{
     "x":{"field":"IAC","type":"quantitative","axis":{"orient":"bottom","offset":-11.3,"labels":false,"grid":false,"title":"J","titleX":-55,"titleY":41,"titleAlign":"left","titleFontSize":12,"titleFontWeight":"bold","titleColor":"#000000"}},
     "y":{"field":"IER","type":"quantitative","axis":{"orient":"left","offset":-3.3,"labels":false,"grid":false,"title":"CY","titleX":-110.3,"titleY":79.5,"titleFontSize":14,"titleColor":"#000000"}}}}
  ],
  "resolve":{"axis":{"x":"independent","y":"independent"}}},
 {"width":224,"height":92,"data":{"name":"K"},
  "title":{"text":"Correlation = 0.79\u00a0\u00a0\u00a0\u00a0\u00a0\u00a0\u00a0\u00a0\u00a0\u00a0\u00a0\u00a0\u00a0\u00a0\u00a0\u00a0\u00a0\u00a0\u00a0\u00a0\u00a0\u00a0\u00a0\u00a0\u00a0\u00a0\u00a0\u00a0\u00a0\u00a0\u00a0\u00a0N = 85","dx":-37.7,"offset":16.5},
  "layer":[
   {"mark":{"type":"circle"},"encoding":{
     "x":{"field":"IRG","type":"quantitative","scale":{"domain":[-0.4,0.8],"range":[24.7,208],"nice":false},"axis":{"values":[-0.4,0,0.4,0.8],"labelExpr":"round(datum.value*100)+'%'","offset":-12.7,"title":"IRG","titleX":116.35,"titleY":57.7}},
     "y":{"field":"IER","type":"quantitative","scale":{"domain":[-0.4,0.8],"range":[79.3,12.7],"nice":false},"axis":{"values":[-0.4,0,0.4,0.8],"labelExpr":"round(datum.value*100)+'%'","offset":-24.7,"title":"IER","titleX":-73.4,"titleY":46}}}},
   {"mark":{"type":"circle","opacity":0},"encoding":{
     "x":{"field":"IRG","type":"quantitative","axis":{"orient":"bottom","offset":-12.7,"labels":false,"grid":false,"title":"K","titleX":-53.7,"titleY":48.7,"titleAlign":"left","titleFontSize":12,"titleFontWeight":"bold","titleColor":"#000000"}}}}
  ],
  "resolve":{"axis":{"x":"independent"}}},
 {"width":224,"height":88.3,"data":{"name":"L"},
  "title":{"text":"Correlation = 0.08\u00a0\u00a0\u00a0\u00a0\u00a0\u00a0\u00a0\u00a0\u00a0\u00a0\u00a0\u00a0\u00a0\u00a0\u00a0\u00a0\u00a0\u00a0\u00a0\u00a0\u00a0\u00a0\u00a0\u00a0\u00a0\u00a0\u00a0\u00a0\u00a0\u00a0\u00a0\u00a0N = 85","dx":-27.3,"offset":8.2},
  "layer":[
   {"mark":{"type":"circle"},"encoding":{
     "x":{"field":"IRG","type":"quantitative","scale":{"domain":[-0.4,0.8],"range":[0,212.7],"nice":false},"axis":{"values":[-0.4,0,0.4,0.8],"labelExpr":"round(datum.value*100)+'%'","offset":-0.3,"title":"IRG","titleX":106.35,"titleY":55.5}},
     "y":{"field":"IAC","type":"quantitative","scale":{"domain":[-0.4,0.8],"range":[88,0.3],"nice":false},"axis":{"values":[-0.4,0,0.4,0.8],"labelExpr":"round(datum.value*100)+'%'","offset":0,"title":"IAC","titleX":-70.7,"titleY":44.15}}}},
   {"mark":{"type":"circle","opacity":0},"encoding":{
     "x":{"field":"IRG","type":"quantitative","axis":{"orient":"bottom","offset":-0.3,"labels":false,"grid":false,"title":"L","titleX":-59,"titleY":39.2,"titleAlign":"left","titleFontSize":12,"titleFontWeight":"bold","titleColor":"#000000"}}}}
  ],
  "resolve":{"axis":{"x":"independent"}}},
 {"width":224,"height":102,"data":{"name":"M"},
  "title":{"text":"Correlation = 0.91\u00a0\u00a0\u00a0\u00a0\u00a0\u00a0\u00a0\u00a0\u00a0\u00a0\u00a0\u00a0\u00a0\u00a0\u00a0\u00a0\u00a0\u00a0\u00a0\u00a0\u00a0\u00a0\u00a0\u00a0\u00a0\u00a0\u00a0\u00a0\u00a0\u00a0\u00a0\u00a0\u00a0\u00a0\u00a0\u00a0\u00a0N = 85","dx":-47.3,"offset":10},
  "layer":[
   {"mark":{"type":"circle"},"encoding":{
     "x":{"field":"IAC","type":"quantitative","scale":{"domain":[-0.4,0.8],"range":[26.7,210],"nice":false},"axis":{"values":[-0.4,0,0.4,0.8],"labelExpr":"round(datum.value*100)+'%'","offset":-17.7,"title":"IAC","titleX":118.35,"titleY":56.7}},
     "y":{"field":"IER","type":"quantitative","scale":{"domain":[-0.4,0.8],"range":[84.3,17.7],"nice":false},"axis":{"values":[-0.4,0,0.4,0.8],"labelExpr":"round(datum.value*100)+'%'","offset":-26.7,"title":"IER","titleX":-71.7,"titleY":51}}}},
   {"mark":{"type":"circle","opacity":0},"encoding":{
     "x":{"field":"IAC","type":"quantitative","axis":{"orient":"bottom","offset":-17.7,"labels":false,"grid":false,"title":"M","titleX":-54,"titleY":53.2,"titleAlign":"left","titleFontSize":12,"titleFontWeight":"bold","titleColor":"#000000"}},
     "y":{"field":"IER","type":"quantitative","axis":{"orient":"left","offset":-26.7,"labels":false,"grid":false,"title":"CT","titleX":-133.7,"titleY":73.5,"titleFontSize":14,"titleColor":"#000000"}}}}
  ],
  "resolve":{"axis":{"x":"independent","y":"independent"}}},
 {"width":224,"height":102,"data":{"name":"N"},
  "title":{"text":"Correlation = 0.88\u00a0\u00a0\u00a0\u00a0\u00a0\u00a0\u00a0\u00a0\u00a0\u00a0\u00a0\u00a0\u00a0\u00a0\u00a0\u00a0\u00a0\u00a0\u00a0\u00a0\u00a0\u00a0\u00a0\u00a0\u00a0\u00a0\u00a0\u00a0\u00a0\u00a0\u00a0\u00a0N = 85","dx":-37.7,"offset":10},
  "layer":[
   {"mark":{"type":"circle"},"encoding":{
     "x":{"field":"IRG","type":"quantitative","scale":{"domain":[-0.4,0.8],"range":[24.7,208],"nice":false},"axis":{"values":[-0.4,0,0.4,0.8],"labelExpr":"round(datum.value*100)+'%'","offset":-17.7,"title":"IRG","titleX":116.35,"titleY":56.7}},
     "y":{"field":"IER","type":"quantitative","scale":{"domain":[-0.4,0.8],"range":[84.3,17.7],"nice":false},"axis":{"values":[-0.4,0,0.4,0.8],"labelExpr":"round(datum.value*100)+'%'","offset":-24.7,"title":"IER","titleX":-73,"titleY":51}}}},
   {"mark":{"type":"circle","opacity":0},"encoding":{
     "x":{"field":"IRG","type":"quantitative","axis":{"orient":"bottom","offset":-17.7,"labels":false,"grid":false,"title":"N","titleX":-53.7,"titleY":49.5,"titleAlign":"left","titleFontSize":12,"titleFontWeight":"bold","titleColor":"#000000"}}}}
  ],
  "resolve":{"axis":{"x":"independent"}}},
 {"width":224,"height":102,"data":{"name":"O"},
  "title":{"text":"Correlation = 0.72\u00a0\u00a0\u00a0\u00a0\u00a0\u00a0\u00a0\u00a0\u00a0\u00a0\u00a0\u00a0\u00a0\u00a0\u00a0\u00a0\u00a0\u00a0\u00a0\u00a0\u00a0\u00a0\u00a0\u00a0\u00a0\u00a0\u00a0\u00a0\u00a0\u00a0\u00a0\u00a0N = 85","dx":-27.3,"offset":10},
  "layer":[
   {"mark":{"type":"circle"},"encoding":{
     "x":{"field":"IRG","type":"quantitative","scale":{"domain":[-0.4,0.8],"range":[21.7,206],"nice":false},"axis":{"values":[-0.4,0,0.4,0.8],"labelExpr":"round(datum.value*100)+'%'","offset":-17.7,"title":"IRG","titleX":113.85,"titleY":58}},
     "y":{"field":"IAC","type":"quantitative","scale":{"domain":[-0.4,0.8],"range":[84.3,17.7],"nice":false},"axis":{"values":[-0.4,0,0.4,0.8],"labelExpr":"round(datum.value*100)+'%'","offset":-21.7,"title":"IAC","titleX":-70.7,"titleY":51}}}},
   {"mark":{"type":"circle","opacity":0},"encoding":{
     "x":{"field":"IRG","type":"quantitative","axis":{"orient":"bottom","offset":-17.7,"labels":false,"grid":false,"title":"O","titleX":-59,"titleY":48.5,"titleAlign":"left","titleFontSize":12,"titleFontWeight":"bold","titleColor":"#000000"}}}}
  ],
  "resolve":{"axis":{"x":"independent"}}}
]
}
